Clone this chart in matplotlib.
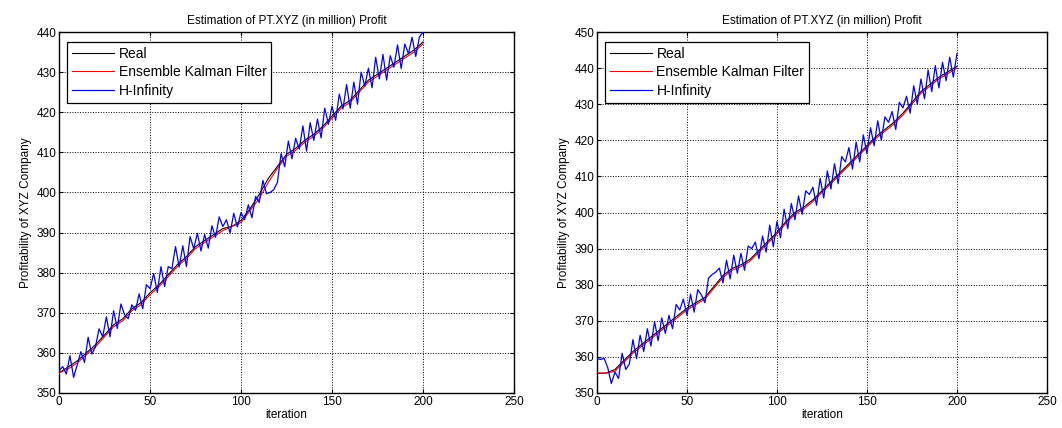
import matplotlib
matplotlib.use("Agg")
import matplotlib.pyplot as plt

plt.rcParams["font.family"] = ["Liberation Sans", "DejaVu Sans"]
plt.rcParams["font.size"] = 8.5

###  data (Real / EnKF every 5 iterations, H-Infinity every 2)

iter_5 = list(range(0, 201, 5))
iter_2 = list(range(0, 201, 2))

left_real = [355, 356.5, 358, 360, 362, 364.5, 367, 368.5, 371, 372.5,
             375, 377, 379.5, 382, 384, 386.5, 388, 389.5, 391, 391.5,
             393, 396, 399.5, 403.5, 406.5, 409.5, 411, 413, 414.5, 416.5,
             419, 421.5, 423, 425.5, 428, 429.5, 431, 432.5, 434, 435.5,
             437.5]
left_enkf = [355, 356, 357.5, 359.5, 361.5, 364, 366.5, 368, 370.5, 372,
             374.5, 376.5, 379, 381.5, 383.5, 386, 387.5, 389, 390.5, 391.5,
             392.5, 395.5, 398.5, 402.5, 406, 409, 410.5, 412.5, 414, 416,
             418.5, 421, 422.5, 425, 427.5, 429, 430.5, 432, 433.5, 435,
             437]
left_hinf = [355.5, 356.6, 354.7, 359.3, 353.9, 357, 360.3, 357.6, 363.9, 359.7,
             361.5, 366, 364, 369, 364, 370.5, 366.1, 372.2, 369.5, 368.5,
             372, 370.6, 374.7, 371, 377, 376, 379.8, 375.1, 381.5, 376.5,
             381.5, 381, 386.5, 381.4, 386.7, 381.5, 389, 386, 389.8, 385.4,
             389.5, 386.1, 391.7, 388.8, 393.9, 391.5, 393.2, 389.9, 394.8, 391.4,
             395, 393.2, 396.9, 393.7, 399, 397.5, 403, 399.7, 400, 400.7,
             402.5, 409.7, 406.4, 412.8, 408.4, 413.5, 410.8, 416.6, 410.3, 417.4,
             413, 418.3, 413.6, 421, 417, 421.5, 418, 424.5, 420.8, 426.9,
             421, 427.5, 422, 430, 426.5, 431, 426.1, 433.7, 428.3, 434.4,
             428, 434.1, 431.2, 436.8, 430.9, 437, 434.6, 438.7, 433.9, 438.7,
             440]

right_real = [355.5, 355.5, 356.5, 359, 361.5, 363.5, 365.5, 367.5, 369.5, 371.5,
              373.5, 375, 376.5, 379.5, 382.5, 384.5, 385.5, 387, 389.5, 392,
              394.5, 397.5, 400, 401.5, 403.5, 406, 408.5, 411, 413.5, 416,
              418.5, 421, 423, 425, 427.5, 430.5, 433.5, 435.5, 437.5, 439,
              440.5]
right_enkf = [355.5, 355.5, 356, 358.5, 361, 363, 365, 367, 369, 371,
              373, 374.5, 376, 379, 382, 384, 385, 386.5, 389, 391.5,
              394, 397, 399.5, 401, 403, 405.5, 408, 410.5, 413, 415.5,
              418, 420.5, 422.5, 424.5, 427, 430, 433, 435, 437, 438.5,
              440]
right_hinf = [359.5, 359.3, 359.6, 357, 352.6, 355.8, 354, 361, 356.5, 358,
              364.8, 359.5, 366, 361.5, 367.8, 363, 369.8, 364.5, 370.8, 366.5,
              371.5, 367.8, 374.5, 373, 376, 371.5, 377.4, 372.4, 378.6, 377.2,
              375, 381.8, 382.8, 383.5, 384.6, 380.5, 386.8, 381.6, 388.2, 383.2,
              388.7, 384, 390.7, 390, 391.8, 387.2, 393.5, 389, 396.5, 390.5,
              397.5, 393, 400.9, 395.5, 402.5, 398, 404.6, 399.5, 406, 405,
              407, 402, 409.5, 404, 411.5, 406.5, 413.5, 408, 415.5, 414,
              418, 412, 419.5, 414, 421.5, 416.3, 423.5, 418.5, 425.4, 420,
              426.5, 425, 428, 423, 430.5, 429, 432.2, 427.5, 435.1, 430,
              437, 431.5, 439.5, 433.5, 440.7, 434.5, 441.6, 436.5, 443, 437.5,
              444]

title = "Estimation of PT.XYZ (in million) Profit"

###

def draw(ax, real, enkf, hinf, ylim):

    ax.plot(iter_5, real, color="black", lw=0.8, label="Real", zorder=3)
    ax.plot(iter_5, enkf, color="red", lw=0.8, label="Ensemble Kalman Filter", zorder=4)
    ax.plot(iter_2, hinf, color="blue", lw=0.9, label="H-Infinity", zorder=5)

    ax.set_xlim(0, 250)
    ax.set_ylim(*ylim)
    ax.set_xticks(range(0, 251, 50))
    ax.set_yticks(range(ylim[0], ylim[1] + 1, 10))
    ax.set(xlabel="iteration", ylabel="Profitability of XYZ Company", title=title)
    ax.title.set_fontsize(8.5)
    ax.title.set_y(1.005)

  # MATLAB look: dotted grid, ticks inside on all sides, black box
    ax.grid(True, linestyle=":", color="black", linewidth=0.7)
    ax.tick_params(direction="in", top=True, right=True, length=3, pad=2)
    for s in ax.spines.values():
        s.set_linewidth(1.0)
    ax.xaxis.labelpad = 1
    ax.yaxis.labelpad = 3

    leg = ax.legend(loc="upper left", fancybox=False, edgecolor="black",
                    framealpha=1, fontsize=10, handlelength=3.0,
                    borderpad=0.35, labelspacing=0.33, handletextpad=0.35,
                    borderaxespad=0, bbox_to_anchor=(0.018, 0.973))
    leg.get_frame().set_linewidth(0.9)

###

fig = plt.figure(figsize=(10.62, 4.28), dpi=100)
ax1 = fig.add_axes([0.0556, 0.0818, 0.4284, 0.8434])
ax2 = fig.add_axes([0.5621, 0.0818, 0.4237, 0.8434])

draw(ax1, left_real, left_enkf, left_hinf, (350, 440))
draw(ax2, right_real, right_enkf, right_hinf, (350, 450))

fig.savefig("out.png", dpi=100)
